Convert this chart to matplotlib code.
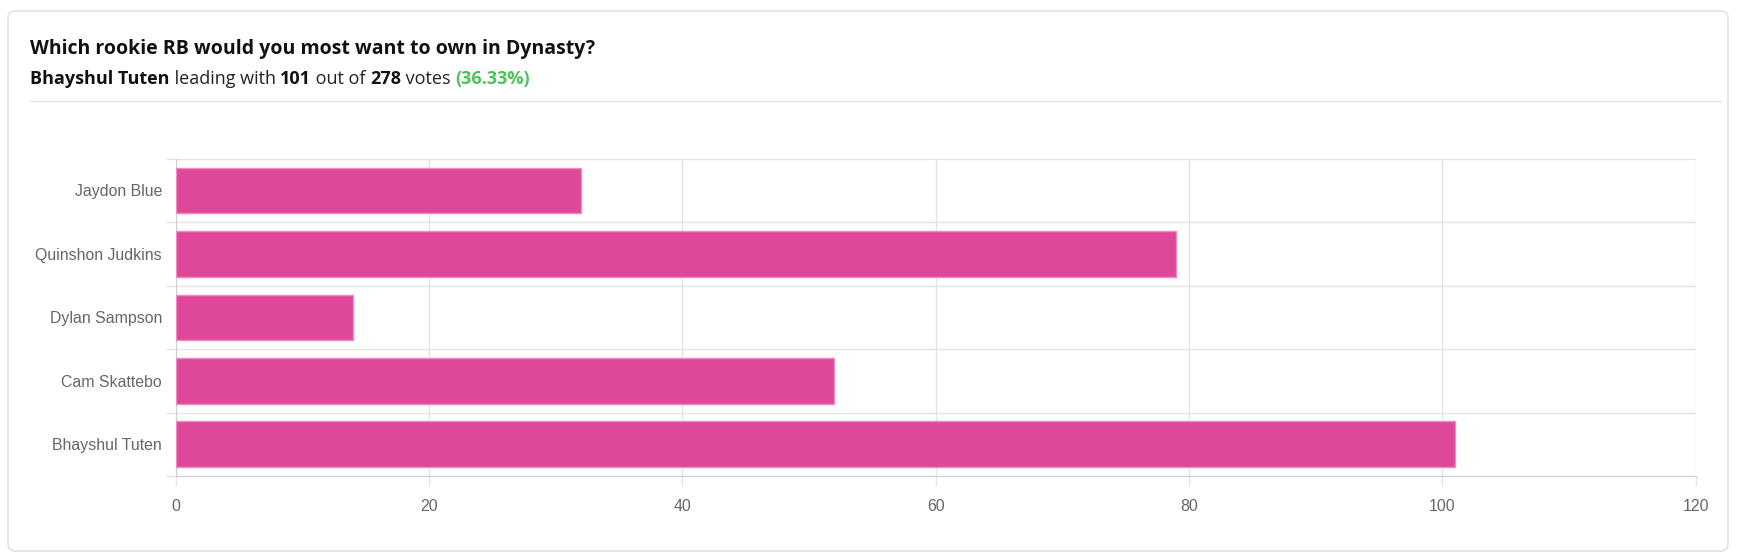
import numpy as np
import matplotlib.pyplot as plt
from matplotlib.patches import FancyBboxPatch

names = ['Jaydon Blue', 'Quinshon Judkins', 'Dylan Sampson', 'Cam Skattebo', 'Bhayshul Tuten']
votes = [32, 79, 14, 52, 101]
xticks = [0, 20, 40, 60, 80, 100, 120]

W, H = 1752, 558
fig = plt.figure(figsize=(W / 100, H / 100), dpi=100)
fig.patch.set_facecolor('white')

# card outline
card = FancyBboxPatch((8 / W, 1 - 551 / H), 1720 / W, 540 / H,
                      boxstyle='round,pad=0,rounding_size=0.004',
                      transform=fig.transFigure, facecolor='white',
                      edgecolor='#e3e3e3', linewidth=1.2, mutation_aspect=W / H, zorder=-5)
fig.patches.append(card)

hfont = 'Open Sans'
# header
fig.text(30 / W, 1 - 49 / H, 'Which rookie RB would you most want to own in Dynasty?',
         fontsize=14, fontweight='bold', family=hfont, color='#111111', va='center')

parts = [('Bhayshul Tuten', 'bold', '#111111'), (' leading with ', 'normal', '#222222'),
         ('101', 'bold', '#111111'), (' out of ', 'normal', '#222222'),
         ('278', 'bold', '#111111'), (' votes ', 'normal', '#222222'),
         ('(36.33%)', 'bold', '#4cc35a')]
renderer = fig.canvas.get_renderer()
x = 30
for s, w, c in parts:
    t = fig.text(x / W, 1 - 79 / H, s, fontsize=13, fontweight=w, family=hfont,
                 color=c, va='center')
    x += t.get_window_extent(renderer).width

fig.add_artist(plt.Line2D([30 / W, 1721 / W], [1 - 100.5 / H] * 2, color='#e6e6e6', lw=1))

ax = fig.add_axes([175.8 / W, 82 / H, 1519.8 / W, 317.3 / H])
ax.set_facecolor('none')
y = np.arange(len(names))
ax.barh(y, votes, height=0.72, color='#df4899', edgecolor='#ea8cc0', linewidth=1, zorder=3)
ax.set_xlim(0, 120)
ax.set_ylim(len(names) - 0.5, -0.5)
ax.set_xticks(xticks)
ax.set_yticks(y)
ax.set_yticklabels(names)
ax.set_yticks(np.arange(len(names) + 1) - 0.5, minor=True)
ax.grid(axis='x', color='#e3e3e3', lw=1, zorder=0)
ax.grid(axis='y', which='minor', color='#e3e3e3', lw=1, zorder=0)
ax.tick_params(axis='y', which='major', length=0, pad=10, labelsize=11.4, labelcolor='#666666')
ax.tick_params(axis='y', which='minor', length=7, color='#e3e3e3', width=1)
ax.tick_params(axis='x', length=7, color='#e3e3e3', width=1, pad=9.5, labelsize=11.4,
               labelcolor='#666666')
for lab in ax.get_xticklabels() + ax.get_yticklabels():
    lab.set_family('Liberation Sans')
for side in ['top', 'right']:
    ax.spines[side].set_visible(False)
for side in ['left', 'bottom']:
    ax.spines[side].set_color('#cfcfcf')

fig.savefig('out.png', dpi=100)
